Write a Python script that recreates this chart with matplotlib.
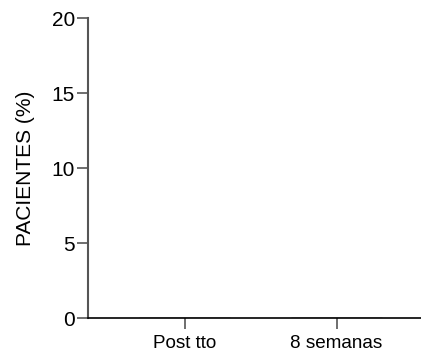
import matplotlib
matplotlib.use("Agg")
from matplotlib import pyplot as plt

# categories and values (no visible bars -> zero)
categories = ['Post tto', '8 semanas']
values = [0, 0]
yticks = [0, 5, 10, 15, 20]

plt.rcParams['font.family'] = ['Liberation Sans', 'DejaVu Sans']

fig = plt.figure(figsize=(4.21, 3.53), dpi=100)
ax = fig.add_axes([0.209, 0.099, 0.791, 0.85])

ax.bar(range(len(categories)), values, width=0.6, color='white', edgecolor='black')

ax.set_xlim(-0.636, 1.556)
ax.set_ylim(0, 20)
ax.set_yticks(yticks)
ax.set_xticks(range(len(categories)))
ax.set_xticklabels(categories)
ax.set_ylabel('PACIENTES (%)', fontsize=15, labelpad=12)

ax.spines['top'].set_visible(False)
ax.spines['right'].set_visible(False)
ax.spines['left'].set_color('#555555')
ax.spines['left'].set_linewidth(1.5)
ax.spines['bottom'].set_color('black')
ax.spines['bottom'].set_linewidth(1.2)

ax.tick_params(axis='y', length=8, width=1.2, color='#555555', labelsize=15, pad=1.5)
ax.tick_params(axis='x', length=8, width=1.2, color='#555555', labelsize=13.6, pad=4)

fig.savefig('out.png', dpi=100)
